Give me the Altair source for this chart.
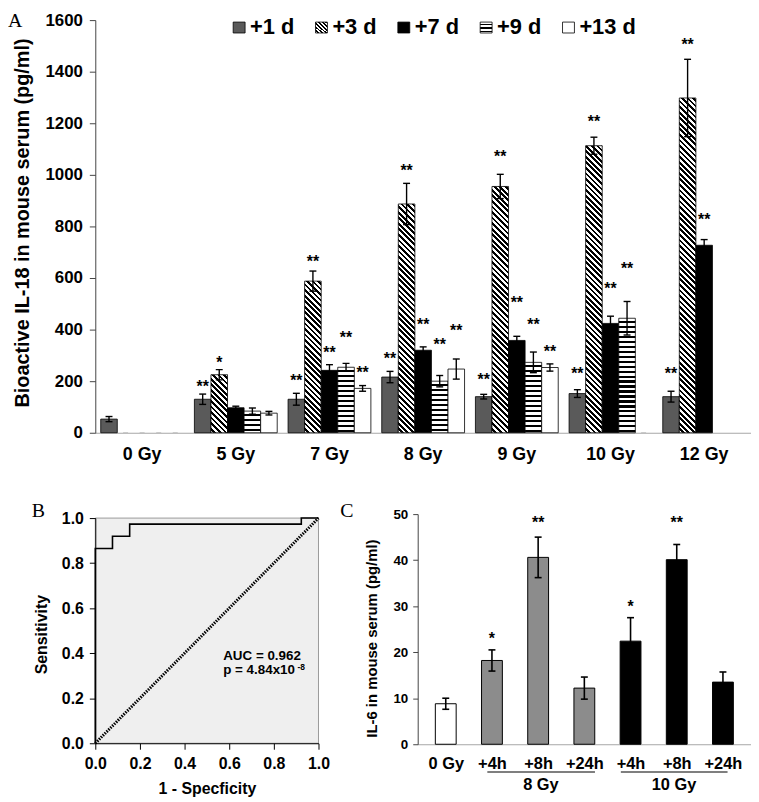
import json
import altair as alt

FONT = "Liberation Sans"
SERIF = "Liberation Serif"

# ---------------- Panel A data ----------------
doses = ["0 Gy", "5 Gy", "7 Gy", "8 Gy", "9 Gy", "10 Gy", "12 Gy"]
series = ["+1 d", "+3 d", "+7 d", "+9 d", "+13 d"]

il18_1d = [53, 130, 130, 216, 140, 152, 140]
il18_3d = [0, 225, 588, 887, 955, 1113, 1298]
il18_7d = [0, 97, 242, 320, 358, 424, 727]
il18_9d = [0, 84, 254, 200, 273, 444, None]
il18_13d = [0, 76, 172, 247, 253, 0, None]

err_1d = [10, 20, 23, 22, 9, 15, 21]
err_3d = [0, 20, 39, 80, 47, 33, 150]
err_7d = [0, 6, 22, 13, 16, 28, 22]
err_9d = [0, 12, 15, 22, 40, 65, None]
err_13d = [0, 7, 11, 39, 14, 0, None]

sig_1d = ["", "**", "**", "**", "**", "**", "**"]
sig_3d = ["", "*", "**", "**", "**", "**", "**"]
sig_7d = ["", "", "**", "**", "**", "**", "**"]
sig_9d = ["", "", "**", "**", "**", "**", ""]
sig_13d = ["", "", "**", "**", "**", "", ""]

sig_y_1d = [None, 191, 217, 301, 219, 244, 244]
sig_y_3d = [None, 286, 678, 1031, 1085, 1221, 1520]
sig_y_7d = [None, None, 326, 434, 520, 571, 842]
sig_y_9d = [None, None, 382, 354, 434, 652, None]
sig_y_13d = [None, None, 247, 409, 329, None, None]

# ---------------- Panel B data ----------------
roc_fpr = [0.0, 0.0, 0.077, 0.154, 0.923, 1.0]
roc_tpr = [0.0, 0.865, 0.919, 0.973, 1.0, 1.0]
chance_fpr = [0.0, 1.0]
chance_tpr = [0.0, 1.0]
auc_label = "AUC = 0.962"
p_label = "p = 4.84x10"
p_exponent = "-8"

# ---------------- Panel C data ----------------
c_labels = ["0 Gy", "+4h", "+8h", "+24h", "+4h", "+8h", "+24h"]
c_pos = [0, 1, 2, 3, 4, 5, 6]
c_group = ["0 Gy", "8 Gy", "8 Gy", "8 Gy", "10 Gy", "10 Gy", "10 Gy"]
il6 = [8.8, 18.2, 40.6, 12.2, 22.4, 40.1, 13.5]
il6_err = [1.2, 2.3, 4.4, 2.4, 5.1, 3.3, 2.2]
il6_sig = ["", "*", "**", "", "*", "**", ""]
il6_sig_y = [None, 23.8, 48.9, None, 30.6, 48.9, None]
c_group_names = ["8 Gy", "10 Gy"]
c_group_from = [0.9, 3.79]
c_group_to = [3.23, 6.1]
c_group_mid = [2.06, 4.94]

# ---------------- geometry / styles ----------------
A_W, A_H = 661, 416
A_PAD_IN = 0.116
A_BAR_W = A_W / len(doses) * (1 - A_PAD_IN) / len(series)
A_PX = A_H / 1600.0


def diag_grad(w, h, period, duty=0.5):
    L = w + h
    s = L / (w * w + h * h)
    stops = []
    a = 0.0
    while a < L - 1e-9:
        b = min(a + period * (1 - duty), L)
        e = min(a + period, L)
        stops += [
            {"offset": round(a / L, 5), "color": "#ffffff"},
            {"offset": round(b / L, 5), "color": "#ffffff"},
            {"offset": round(b / L, 5), "color": "#000000"},
            {"offset": round(e / L, 5), "color": "#000000"},
        ]
        a += period
    return {"gradient": "linear", "x1": 0, "y1": 1, "x2": round(s * w, 6),
            "y2": round(1 - s * h, 6), "stops": stops}


def hline_grad(h, period, duty=0.45):
    stops = []
    a = 0.0
    while a < h - 1e-9:
        b = min(a + period * (1 - duty), h)
        e = min(a + period, h)
        stops += [
            {"offset": round(a / h, 5), "color": "#ffffff"},
            {"offset": round(b / h, 5), "color": "#ffffff"},
            {"offset": round(b / h, 5), "color": "#000000"},
            {"offset": round(e / h, 5), "color": "#000000"},
        ]
        a += period
    return {"gradient": "linear", "x1": 0, "y1": 0, "x2": 0, "y2": 1, "stops": stops}


def bar_fill(s, v):
    h = max(v * A_PX, 1.0)
    if s == "+1 d":
        return "#5a5a5a"
    if s == "+3 d":
        return diag_grad(A_BAR_W, h, 5.6)
    if s == "+7 d":
        return "#000000"
    if s == "+9 d":
        return hline_grad(h, 5.0)
    return "#ffffff"


swatch_fill = {
    "+1 d": "#5a5a5a",
    "+3 d": diag_grad(11, 11, 3.6),
    "+7 d": "#000000",
    "+9 d": hline_grad(11, 3.4),
    "+13 d": "#ffffff",
}

vals = [il18_1d, il18_3d, il18_7d, il18_9d, il18_13d]
errs = [err_1d, err_3d, err_7d, err_9d, err_13d]
sigs = [sig_1d, sig_3d, sig_7d, sig_9d, sig_13d]
sigys = [sig_y_1d, sig_y_3d, sig_y_7d, sig_y_9d, sig_y_13d]

recA = []
for si, s in enumerate(series):
    for di, d in enumerate(doses):
        v = vals[si][di]
        if v is None:
            continue
        e = errs[si][di] or 0
        recA.append({
            "dose": d, "series": s, "value": v, "err": e,
            "lo": v - e, "hi": v + e, "fill": bar_fill(s, v),
            "sig": sigs[si][di], "sig_y": sigys[si][di],
        })
dataA = alt.Data(values=recA)

xA_scale = alt.Scale(domain=doses, paddingInner=A_PAD_IN, paddingOuter=A_PAD_IN / 2)
yA_scale = alt.Scale(domain=[0, 1600], nice=False)
xo = alt.XOffset("series:N", scale=alt.Scale(domain=series, paddingInner=0, paddingOuter=0))

axisA_x = alt.Axis(title=None, labelFontSize=18, ticks=False, tickSize=0, labelPadding=13,
                   domainColor="#a6a6a6", labelAngle=0)
axisA_y = alt.Axis(values=list(range(0, 1601, 200)), format="d", labelFontSize=17, tickSize=6,
                   labelPadding=7, domainColor="#444444", tickColor="#444444",
                   title="Bioactive IL-18 in mouse serum (pg/ml)", titleFontSize=20,
                   titleX=-73, titleY=204, titleBaseline="middle")

XA = alt.X("dose:N", scale=xA_scale, title=None)

barsA = alt.Chart(dataA).mark_bar(stroke="#000000", strokeWidth=0.8, aria=False).encode(
    x=alt.X("dose:N", scale=xA_scale, axis=axisA_x),
    xOffset=xo,
    y=alt.Y("value:Q", scale=yA_scale, axis=axisA_y),
    fill=alt.Fill("fill:N", scale=None),
).transform_filter("datum.value > 0")

zeroA = alt.Chart(dataA).mark_tick(color="#bdbdbd", size=5, thickness=1, opacity=1).encode(
    x=XA, xOffset=xo,
    y=alt.Y("value:Q", scale=yA_scale),
).transform_filter("datum.value == 0")

errA = alt.Chart(dataA).mark_rule(color="#000000", strokeWidth=1.4).encode(
    x=XA, xOffset=xo,
    y=alt.Y("lo:Q", scale=yA_scale), y2="hi:Q",
).transform_filter("datum.err > 0")

capLoA = alt.Chart(dataA).mark_tick(color="#000000", size=7, thickness=1.4, opacity=1).encode(
    x=XA, xOffset=xo,
    y=alt.Y("lo:Q", scale=yA_scale),
).transform_filter("datum.err > 0")

capHiA = alt.Chart(dataA).mark_tick(color="#000000", size=7, thickness=1.4, opacity=1).encode(
    x=XA, xOffset=xo,
    y=alt.Y("hi:Q", scale=yA_scale),
).transform_filter("datum.err > 0")

starsA = alt.Chart(dataA).mark_text(fontSize=16, fontWeight="bold", baseline="middle",
                                    dy=4, color="#000000").encode(
    x=XA, xOffset=xo,
    y=alt.Y("sig_y:Q", scale=yA_scale), text="sig:N",
).transform_filter("datum.sig != ''")

one = alt.Data(values=[{}])
legend_layers = []
for i, s in enumerate(series):
    x0 = 139 + 83 * i
    legend_layers.append(alt.Chart(one).mark_rect(stroke="#000000", strokeWidth=0.8).encode(
        x=alt.value(x0), x2=alt.value(x0 + 12), y=alt.value(2), y2=alt.value(13),
        fill=alt.value(swatch_fill[s])))
    legend_layers.append(alt.Chart(one).mark_text(
        text=s, fontSize=22, fontWeight="bold", align="left", baseline="alphabetic",
        color="#000000").encode(x=alt.value(x0 + 17), y=alt.value(14.5)))

letterA = alt.Chart(one).mark_text(text="A", font=SERIF, fontSize=20, align="left",
                                   baseline="top", color="#000000").encode(
    x=alt.value(-88), y=alt.value(-9))

panelA = alt.layer(barsA, zeroA, errA, capLoA, capHiA, starsA, *legend_layers,
                   letterA).properties(width=A_W, height=A_H)

# ---------------- Panel B ----------------
xB = alt.Scale(domain=[0, 1], range=[0, 225], nice=False)
yB = alt.Scale(domain=[0, 1], range=[231, 4], nice=False)
ticks01 = [0, 0.2, 0.4, 0.6, 0.8, 1.0]
axisB_x = alt.Axis(orient="bottom", values=ticks01, format=".1f", labelFontSize=16,
                   tickSize=6, labelPadding=6, labelFlush=False, labelOverlap=False,
                   title="1 - Specficity", titleFontSize=16, titleY=38,
                   titleBaseline="top", domainColor="#000000", tickColor="#000000",
                   offset=-1, zindex=1)
axisB_y = alt.Axis(orient="left", values=ticks01, format=".1f", labelFontSize=16,
                   tickSize=6, labelPadding=6, labelFlush=False, labelOverlap=False,
                   title="Sensitivity", titleFontSize=16, titleX=-54, titleY=121,
                   titleBaseline="middle", domainColor="#000000", tickColor="#000000",
                   zindex=1)

XB = alt.X("fpr:Q", scale=xB, title="1 - Specficity")
YB = alt.Y("tpr:Q", scale=yB, title="Sensitivity")

bgB = alt.Chart(alt.Data(values=[{"fpr": 0, "fpr2": 1, "tpr": 0, "tpr2": 1}])).mark_rect(
    fill="#efefef", stroke="#9a9a9a", strokeWidth=1).encode(
    x=alt.X("fpr:Q", scale=xB, axis=axisB_x), x2="fpr2:Q",
    y=alt.Y("tpr:Q", scale=yB, axis=axisB_y), y2="tpr2:Q")

chanceB = alt.Chart(alt.Data(values=[{"fpr": a, "tpr": b} for a, b in zip(chance_fpr, chance_tpr)])
                    ).mark_line(color="#000000", strokeWidth=3, strokeDash=[1.5, 1.2]).encode(
    x=XB, y=YB)

rocB = alt.Chart(alt.Data(values=[{"fpr": a, "tpr": b} for a, b in zip(roc_fpr, roc_tpr)])
                 ).mark_line(color="#000000", strokeWidth=1.6, interpolate="step-after").encode(
    x=XB, y=YB)

textB = alt.Chart(alt.Data(values=[
    {"fpr": 0.573, "tpr": 0.387, "t": auc_label},
    {"fpr": 0.573, "tpr": 0.323, "t": p_label},
])).mark_text(fontWeight="bold", fontSize=13.5, align="left", baseline="middle",
              color="#000000").encode(x=XB, y=YB, text="t:N")
supB = alt.Chart(alt.Data(values=[{"fpr": 0.906, "tpr": 0.337, "t": p_exponent}])).mark_text(
    fontWeight="bold", fontSize=8.5, align="left", baseline="middle", color="#000000").encode(
    x=XB, y=YB, text="t:N")

letterB = alt.Chart(one).mark_text(text="B", font=SERIF, fontSize=20, align="left",
                                   baseline="top", color="#000000").encode(
    x=alt.value(-64), y=alt.value(-12.6))

panelB = alt.layer(bgB, chanceB, rocB, textB, supB, letterB)

# ---------------- Panel C ----------------
xC = alt.Scale(domain=[-0.5, 6.5], range=[325, 661], nice=False, zero=False)
yC = alt.Scale(domain=[0, 50], range=[232, 0], nice=False)
axisC_x = alt.Axis(orient="bottom", values=c_pos,
                   labelExpr=json.dumps(c_labels) + "[datum.value]",
                   ticks=False, tickSize=0, labelPadding=11, labelFontSize=16.5,
                   labelFlush=False, labelOverlap=False, domainColor="#a6a6a6", title=None)
axisC_y = alt.Axis(orient="left", offset=-325, values=[0, 10, 20, 30, 40, 50],
                   labelFontSize=13.5, tickSize=5, labelPadding=5, labelFlush=False,
                   title="IL-6 in mouse serum (pg/ml)", titleFontSize=15, titleX=-47,
                   titleY=125, titleBaseline="middle", domainColor="#444444",
                   tickColor="#444444")

recC = []
for i in range(len(c_pos)):
    recC.append({"pos": c_pos[i], "group": c_group[i], "il6": il6[i],
                 "lo": il6[i] - il6_err[i], "hi": il6[i] + il6_err[i],
                 "sig": il6_sig[i], "sig_y": il6_sig_y[i]})
dataC = alt.Data(values=recC)

XC = alt.X("pos:Q", scale=xC, title=None)
YCt = "IL-6 in mouse serum (pg/ml)"

barsC = alt.Chart(dataC).mark_bar(orient="vertical", size=21, stroke="#000000",
                                  strokeWidth=1).encode(
    x=alt.X("pos:Q", scale=xC, axis=axisC_x),
    y=alt.Y("il6:Q", scale=yC, axis=axisC_y),
    fill=alt.Fill("group:N", scale=alt.Scale(domain=["0 Gy", "8 Gy", "10 Gy"],
                                             range=["#ffffff", "#8c8c8c", "#000000"]),
                  legend=None))
errC = alt.Chart(dataC).mark_rule(color="#000000", strokeWidth=1.6).encode(
    x=XC, y=alt.Y("lo:Q", scale=yC, title=YCt), y2="hi:Q")
capLoC = alt.Chart(dataC).mark_tick(color="#000000", size=7, thickness=1.6, opacity=1,
                                    orient="horizontal").encode(
    x=XC, y=alt.Y("lo:Q", scale=yC, title=YCt))
capHiC = alt.Chart(dataC).mark_tick(color="#000000", size=7, thickness=1.6, opacity=1,
                                    orient="horizontal").encode(
    x=XC, y=alt.Y("hi:Q", scale=yC, title=YCt))
starsC = alt.Chart(dataC).mark_text(fontSize=16, fontWeight="bold", baseline="middle", dy=4,
                                    color="#000000").encode(
    x=XC, y=alt.Y("sig_y:Q", scale=yC, title=YCt),
    text="sig:N").transform_filter("datum.sig != ''")

recG = [{"name": n, "from": a, "to": b, "mid": m}
        for n, a, b, m in zip(c_group_names, c_group_from, c_group_to, c_group_mid)]
lineC = alt.Chart(alt.Data(values=recG)).mark_rule(color="#000000", strokeWidth=1.2).encode(
    x=alt.X("from:Q", scale=xC, title=None), x2="to:Q", y=alt.value(260))
groupTextC = alt.Chart(alt.Data(values=recG)).mark_text(
    fontSize=16.5, fontWeight="bold", baseline="top", color="#000000").encode(
    x=alt.X("mid:Q", scale=xC, title=None), y=alt.value(265), text="name:N")

letterC = alt.Chart(one).mark_text(text="C", font=SERIF, fontSize=20, align="left",
                                   baseline="top", color="#000000").encode(
    x=alt.value(247), y=alt.value(-12.6))

panelC = alt.layer(barsC, errC, capLoC, capHiC, starsC, lineC, groupTextC, letterC)

panelBC = alt.layer(panelB, panelC).resolve_scale(x="independent", y="independent").properties(
    width=661, height=232)

chart = alt.vconcat(panelA, panelBC, spacing=82, bounds="flush", padding=0).configure_view(
    stroke=None).configure_axis(
    grid=False, labelFont=FONT, titleFont=FONT, labelFontWeight="bold",
    titleFontWeight="bold", labelColor="#000000", titleColor="#000000").configure_text(font=FONT)

chart.save("out.html", embed_options={"renderer": "svg", "actions": False})
